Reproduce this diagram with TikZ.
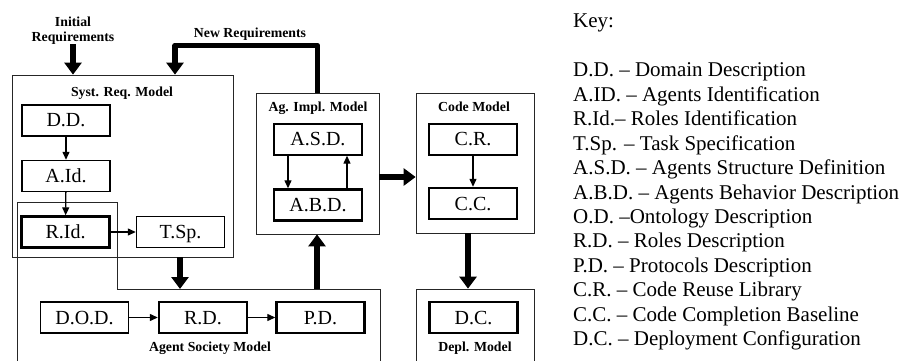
\documentclass[tikz,border=0pt]{standalone}
\usepackage{fontspec}
\setmainfont{Liberation Serif}
\usetikzlibrary{arrows.meta}

\newcommand\blkfont{\fontsize{20}{22}\selectfont}
\newcommand\mdlfont{\bfseries\fontsize{13.8}{16}\selectfont}
\newcommand\keyfont{\fontsize{21}{24}\selectfont}

\tikzset{
  blk/.style={draw, line width=1.4pt, minimum width=88pt, minimum height=31pt,
    inner sep=0pt, text height=13pt, text depth=0pt, font=\blkfont},
  blkb/.style={blk, line width=2.4pt},
  cont/.style={draw=black!85, line width=0.8pt, inner sep=0pt},
  mdl title/.style={font=\mdlfont, inner sep=0pt, anchor=base},
  small arrow/.style={line width=1.3pt, -{Triangle[width=7pt,length=8pt]}},
  big arrow/.style={line width=5.5pt, line join=round, -{Triangle[width=17pt,length=12pt]}},
  keyline/.style={font=\keyfont, inner sep=0pt, anchor=base west}
}

\begin{document}
\begin{tikzpicture}[x=1pt,y=-1pt]
\useasboundingbox (0,0) rectangle (906,361);
% model containers
\node[cont, minimum width=221pt, minimum height=182pt] (syst) at (122.5,166) {};
\node[cont, minimum width=123pt, minimum height=141pt] (agimpl) at (317.5,163.5) {};
\node[cont, minimum width=118pt, minimum height=140pt] (code) at (475,163) {};
\node[cont, minimum width=118pt, minimum height=80pt] (depl) at (475,329) {};
% agent society model (open at the bottom)
\coordinate (asmsw) at (17,366);
\coordinate (asmnw) at (17,202);
\coordinate (asmne) at (117,202);
\coordinate (asmin) at (180,289);
\coordinate (asmout) at (317,289);
\coordinate (asmse) at (380,366);
\draw[cont] (asmsw) -- (asmnw) -- (asmne) -- (117,289) -- (380,289) -- (asmse);
% titles
\node[mdl title] (systtitle) at (122,96) {Syst. Req. Model};
\node[mdl title] (agimpltitle) at (318,112) {Ag. Impl. Model};
\node[mdl title] (codetitle) at (474,112) {Code Model};
\node[mdl title] (asmtitle) at (210,351) {Agent Society Model};
\node[mdl title] (depltitle) at (475,351) {Depl. Model};
% inner blocks
\node[blkb] (dd) at (66,120.5) {D.D.};
\node[blk] (aid) at (66,176) {A.Id.};
\node[blkb] (rid) at (65.5,232) {R.Id.};
\node[blk] (tsp) at (180.5,232) {T.Sp.};
\node[blk] (dod) at (84.5,317.5) {D.O.D.};
\node[blkb] (rd) at (203,317.5) {R.D.};
\node[blkb] (pd) at (320.5,317.5) {P.D.};
\node[blk] (asd) at (318,139.5) {A.S.D.};
\node[blkb] (abd) at (318,205) {A.B.D.};
\node[blk] (cr) at (473,139.5) {C.R.};
\node[blkb] (cc) at (473,203.5) {C.C.};
\node[blkb] (dc) at (473.5,317.5) {D.C.};
% small arrows
\draw[small arrow] (dd) -- (aid);
\draw[small arrow] (aid) -- (rid);
\draw[small arrow] (rid) -- (tsp);
\draw[small arrow] (dod) -- (rd);
\draw[small arrow] (rd) -- (pd);
\draw[small arrow] ([xshift=-30pt]asd.south) -- ([xshift=-30pt]abd.north);
\draw[small arrow] ([xshift=29pt]abd.north) -- ([xshift=29pt]asd.south);
\draw[small arrow] (cr) -- (cc);
% requirements
\node[font=\mdlfont, inner sep=0pt, align=center, anchor=south] (init) at (73,44.5)
  {Initial\\[-1.5pt]Requirements};
\node[mdl title] (newreq) at (250,38) {New Requirements};
\coordinate (nrturn) at (175,45.5);
\draw[big arrow] (init.south) -- (syst.north -| init.south);
\draw[big arrow] (agimpl.north) |- (nrturn) -- (syst.north -| nrturn);
% flow between models
\coordinate (implout) at (0,177);
\coordinate (cdx) at (468,0);
\draw[big arrow] (syst.south -| asmin) -- (asmin);
\draw[big arrow] (asmout) -- (asmout |- agimpl.south);
\draw[big arrow] (agimpl.east |- implout) -- (code.west |- implout);
\draw[big arrow] (code.south -| cdx) -- (depl.north -| cdx);
% key
\node[keyline] (keyhead) at (573,28) {Key:};
\foreach \t [count=\i] in {D.D. -- Domain Description, A.ID. -- Agents Identification,
  R.Id.-- Roles Identification, T.Sp. -- Task Specification,
  A.S.D. -- Agents Structure Definition, A.B.D. -- Agents Behavior Description,
  O.D. --Ontology Description, R.D. -- Roles Description,
  P.D. -- Protocols Description, C.R. -- Code Reuse Library,
  C.C. -- Code Completion Baseline, D.C. -- Deployment Configuration}
  \node[keyline] (key\i) at (573,{77+24.4*(\i-1)}) {\t};
\end{tikzpicture}
\end{document}
